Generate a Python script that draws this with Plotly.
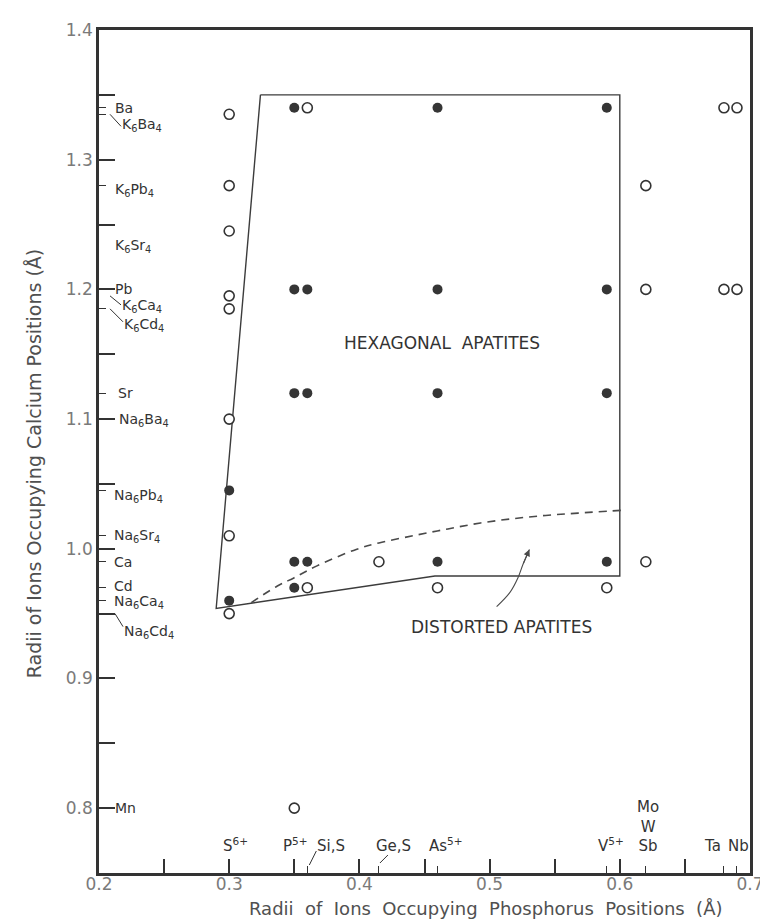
import plotly.graph_objects as go

# ---------------- data ----------------
# Filled circles: hexagonal apatites
filled_x = [0.35, 0.46, 0.59,
            0.35, 0.36, 0.46, 0.59,
            0.35, 0.36, 0.46, 0.59,
            0.30,
            0.35, 0.36, 0.46, 0.59,
            0.35,
            0.30]
filled_y = [1.34, 1.34, 1.34,
            1.20, 1.20, 1.20, 1.20,
            1.12, 1.12, 1.12, 1.12,
            1.045,
            0.99, 0.99, 0.99, 0.99,
            0.97,
            0.96]

# Open circles
open_x = [0.30, 0.36, 0.68, 0.69,
          0.30, 0.62,
          0.30,
          0.30, 0.30, 0.62, 0.68, 0.69,
          0.30,
          0.30,
          0.415, 0.62,
          0.36, 0.46, 0.59,
          0.30,
          0.35]
open_y = [1.335, 1.34, 1.34, 1.34,
          1.28, 1.28,
          1.245,
          1.195, 1.185, 1.20, 1.20, 1.20,
          1.10,
          1.01,
          0.99, 0.99,
          0.97, 0.97, 0.97,
          0.95,
          0.80]

# Boundary of the hexagonal-apatite field
hex_x = [0.324, 0.600, 0.600, 0.458, 0.290, 0.324]
hex_y = [1.350, 1.350, 0.979, 0.979, 0.954, 1.350]

# Dashed boundary hexagonal / distorted
dist_x = [0.317, 0.337, 0.350, 0.367, 0.3975, 0.415, 0.443, 0.468, 0.493, 0.518, 0.543, 0.568, 0.601]
dist_y = [0.9585, 0.9713, 0.9777, 0.9866, 0.9995, 1.0045, 1.0104, 1.0153, 1.0199, 1.0232, 1.0257, 1.0275, 1.0296]

# Curved arrow pointing into the distorted field
arrow_x = [0.5054, 0.5155, 0.5218, 0.5256, 0.5306]
arrow_y = [0.9554, 0.9662, 0.9777, 0.9879, 0.9994]

# Calcium-site ions (y axis)
ca_labels = ["Ba", "K<sub>6</sub>Ba<sub>4</sub>", "K<sub>6</sub>Pb<sub>4</sub>", "K<sub>6</sub>Sr<sub>4</sub>",
             "Pb", "K<sub>6</sub>Ca<sub>4</sub>", "K<sub>6</sub>Cd<sub>4</sub>", "Sr",
             "Na<sub>6</sub>Ba<sub>4</sub>", "Na<sub>6</sub>Pb<sub>4</sub>", "Na<sub>6</sub>Sr<sub>4</sub>", "Ca",
             "Cd", "Na<sub>6</sub>Ca<sub>4</sub>", "Na<sub>6</sub>Cd<sub>4</sub>", "Mn"]
ca_radii = [1.34, 1.335, 1.28, 1.245, 1.20, 1.195, 1.185, 1.12,
            1.10, 1.045, 1.01, 0.99, 0.97, 0.96, 0.95, 0.80]

# Phosphorus-site ions (x axis)
p_labels = ["S<sup>6+</sup>", "P<sup>5+</sup>", "Si,S", "Ge,S", "As<sup>5+</sup>", "V<sup>5+</sup>",
            "Mo<br>W<br>Sb", "Ta", "Nb"]
p_radii = [0.30, 0.35, 0.36, 0.415, 0.46, 0.59, 0.62, 0.68, 0.69]

# Axis ticks
y_major = [0.80, 0.85, 0.90, 0.95, 1.00, 1.05, 1.10, 1.15, 1.20, 1.25, 1.30, 1.35, 1.40]
y_major_text = ["0.8", "", "0.9", "", "1.0", "", "1.1", "", "1.2", "", "1.3", "", "1.4"]
x_major = [0.20, 0.25, 0.30, 0.35, 0.40, 0.45, 0.50, 0.55, 0.60, 0.65, 0.70]
x_major_text = ["0.2", "", "0.3", "", "0.4", "", "0.5", "", "0.6", "", "0.7"]

# ---------------- styles ----------------
INK = "#333333"
FONT = "DejaVu Sans"
ca_dx = [14, 21, 14, 14, 14, 21, 23, 17, 18, 13, 13, 13, 13, 13, 23, 14]
ca_dy = [0, -11, -4, -15, 0, -10, -16, 0, -1, -6, 0, 0, 2, -1, -18, 0]
p_anchor = ["left", "left", "left", "left", "left", "left", "center", "center", "center"]
p_dx = [-8, -13, 8, -5, -11, -11, 2, -11, 2]

fig = go.Figure()

fig.add_trace(go.Scatter(x=hex_x, y=hex_y, mode="lines",
                         line=dict(color="#3c3c3c", width=1.4), hoverinfo="skip"))
fig.add_trace(go.Scatter(x=dist_x, y=dist_y, mode="lines",
                         line=dict(color="#4a4a4a", width=1.6, dash="8px,6px", shape="spline"),
                         hoverinfo="skip"))
fig.add_trace(go.Scatter(x=arrow_x, y=arrow_y, mode="lines",
                         line=dict(color="#4a4a4a", width=1.1, shape="spline"), hoverinfo="skip"))
fig.add_trace(go.Scatter(x=filled_x, y=filled_y, mode="markers",
                         marker=dict(size=10, color="#353535", line=dict(width=0))))
fig.add_trace(go.Scatter(x=open_x, y=open_y, mode="markers",
                         marker=dict(size=10, color="white", line=dict(width=1.6, color=INK))))

# arrowhead
fig.add_annotation(x=arrow_x[-1], y=arrow_y[-1], ax=arrow_x[-2], ay=arrow_y[-2],
                   xref="x", yref="y", axref="x", ayref="y", text="", showarrow=True,
                   arrowhead=2, arrowsize=1.2, arrowwidth=1.1, arrowcolor="#4a4a4a")

# region labels
fig.add_annotation(x=0.4636, y=1.159, text="HEXAGONAL&nbsp;&nbsp;APATITES", showarrow=False,
                   font=dict(family=FONT, size=17, color=INK))
fig.add_annotation(x=0.5092, y=0.9393, text="DISTORTED APATITES", showarrow=False,
                   font=dict(family=FONT, size=17, color=INK))

# Ca-site labels
for lab, r, dx, dy in zip(ca_labels, ca_radii, ca_dx, ca_dy):
    fig.add_annotation(x=0.2, y=r, xref="x", yref="y", text=lab, showarrow=False,
                       xanchor="left", yanchor="middle", xshift=dx, yshift=dy,
                       font=dict(family=FONT, size=14, color=INK))

# P-site labels
for lab, r, anc, dx in zip(p_labels, p_radii, p_anchor, p_dx):
    fig.add_annotation(x=r, y=0, xref="x", yref="paper", text=lab, showarrow=False,
                       xanchor=anc, yanchor="bottom", xshift=dx, yshift=16,
                       font=dict(family=FONT, size=15, color=INK))

# leader lines (pixel offsets from tick positions)
leaders_y = [(1.335, 11, 0, 22, -12), (1.195, 11, 0, 22, -9), (1.185, 11, 0, 24, -13), (0.95, 16, 0, 24, -13)]
for r, x0, y0, x1, y1 in leaders_y:
    fig.add_shape(type="line", xref="x", yref="y", xsizemode="pixel", ysizemode="pixel",
                  xanchor=0.2, yanchor=r, x0=x0, y0=y0, x1=x1, y1=y1,
                  line=dict(color=INK, width=1))
leaders_x = [(0.36, 2, 8, 9, 22), (0.415, 1, 10, 9, 18)]
for r, x0, y0, x1, y1 in leaders_x:
    fig.add_shape(type="line", xref="x", yref="y", xsizemode="pixel", ysizemode="pixel",
                  xanchor=r, yanchor=0.75, x0=x0, y0=y0, x1=x1, y1=y1,
                  line=dict(color=INK, width=1))

# axis titles
fig.add_annotation(x=-0.0994, y=0.4864, xref="paper", yref="paper", textangle=-90,
                   xanchor="center", yanchor="middle",
                   text="Radii of Ions Occupying Calcium Positions (Å)", showarrow=False,
                   font=dict(family=FONT, size=19, color="#505050"))
fig.add_annotation(x=0.593, y=-0.0425, xref="paper", yref="paper",
                   xanchor="center", yanchor="middle",
                   text="Radii&nbsp; of&nbsp; Ions&nbsp; Occupying&nbsp; Phosphorus&nbsp; Positions&nbsp; (Å)",
                   showarrow=False, font=dict(family=FONT, size=18, color="#505050"))

y_minor = [v for v in ca_radii if round(v * 100) % 5 != 0]
x_minor = [v for v in p_radii if round(v * 1000) % 50 != 0]

fig.update_layout(width=768, height=920, margin=dict(l=91, r=13, t=18, b=55),
                  plot_bgcolor="white", paper_bgcolor="white", showlegend=False,
                  font=dict(family=FONT, color=INK))
fig.update_xaxes(range=[0.2, 0.7], tickmode="array", tickvals=x_major, ticktext=x_major_text,
                 ticks="inside", ticklen=14, tickwidth=1.5, tickcolor=INK,
                 showline=True, linewidth=2.5, linecolor=INK, mirror=True,
                 showgrid=False, zeroline=False, ticklabelstandoff=-6,
                 tickfont=dict(family=FONT, size=17, color="#7a7a7a"),
                 minor=dict(tickmode="array", tickvals=x_minor, ticks="inside", ticklen=7,
                            tickwidth=1.2, tickcolor=INK, showgrid=False))
fig.update_yaxes(range=[0.75, 1.4], tickmode="array", tickvals=y_major, ticktext=y_major_text,
                 ticks="inside", ticklen=16, tickwidth=1.5, tickcolor=INK,
                 showline=True, linewidth=2.5, linecolor=INK, mirror=True,
                 showgrid=False, zeroline=False,
                 tickfont=dict(family=FONT, size=17, color="#7a7a7a"),
                 minor=dict(tickmode="array", tickvals=y_minor, ticks="inside", ticklen=7,
                            tickwidth=1.2, tickcolor=INK, showgrid=False))

fig.write_html("out.html")
